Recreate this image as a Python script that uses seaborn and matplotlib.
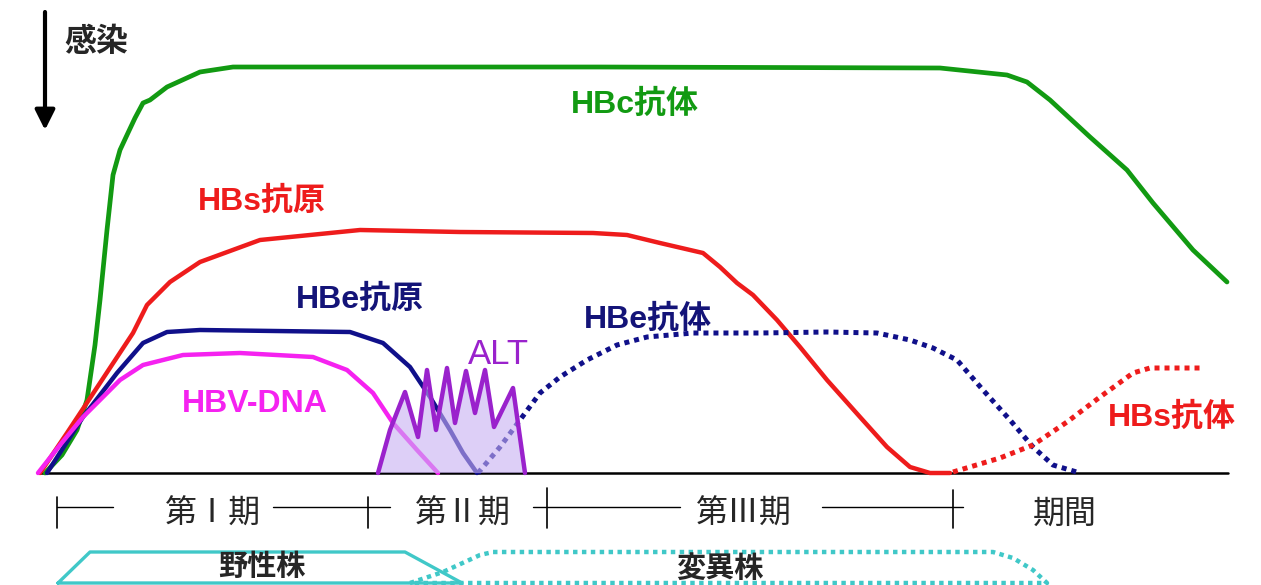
import matplotlib
matplotlib.use("Agg")
import matplotlib.pyplot as plt
import seaborn as sns

# time axis (x) and level above the baseline (y)
hbc_ab_x = [45, 62, 77, 87, 95, 100, 107, 113, 120, 127, 135, 143, 150, 167, 200, 233, 300, 600,
            940, 1007, 1027, 1050, 1090, 1127, 1153, 1193, 1227]
hbc_ab_y = [0, 18, 43, 73, 128, 173, 243, 298, 323, 338, 355, 370, 373, 386, 401, 406, 406, 406,
            405, 398, 391, 373, 336, 303, 270, 223, 191]

hbs_ag_x = [40, 67, 100, 133, 147, 170, 200, 260, 360, 460, 593, 627, 660, 703, 720, 737, 753,
            777, 800, 827, 860, 887, 910, 930, 950]
hbs_ag_y = [0, 40, 90, 140, 168, 191, 211, 233, 243, 241, 240, 238, 230, 220, 206, 190, 178,
            153, 126, 93, 56, 26, 6, 0, 0]

hbe_ag_x = [47, 65, 83, 100, 117, 143, 167, 200, 350, 383, 410, 430, 450, 463, 477]
hbe_ag_y = [0, 28, 56, 78, 100, 130, 141, 143, 141, 130, 106, 76, 43, 20, 0]

dna_x = [38, 60, 83, 120, 143, 183, 240, 313, 347, 373, 393, 417, 438]
dna_y = [0, 28, 56, 93, 108, 118, 120, 116, 103, 80, 50, 23, 0]

alt_x = [378, 390, 405, 418, 427, 436, 447, 455, 466, 475, 485, 494, 513, 525]
alt_y = [0, 43, 81, 36, 103, 43, 105, 50, 102, 60, 103, 46, 85, 0]

hbe_ab_x = [478, 500, 520, 540, 560, 587, 617, 647, 693, 760, 827, 877, 910, 933, 957, 983,
            1010, 1033, 1053, 1080]
hbe_ab_y = [0, 26, 53, 80, 96, 113, 128, 136, 140, 140, 141, 140, 133, 125, 113, 83,
            53, 26, 8, 0]

hbs_ab_x = [953, 1000, 1033, 1067, 1100, 1133, 1150, 1200]
hbs_ab_y = [1, 15, 28, 51, 76, 100, 105, 105]

# phases along the time axis
phase_ticks = [57, 368, 547, 953]
phase_labels = ["第Ⅰ期", "第Ⅱ期", "第Ⅲ期", "期間"]
phase_label_x = [213, 463, 744, 1065]

# virus strain bands
wild_x = [58, 90, 405, 462, 58]
wild_y = [-110, -79, -79, -110, -110]
mutant_x = [410, 443, 480, 493, 993, 1013, 1033, 1047, 410]
mutant_y = [-110, -99, -82, -79, -79, -85, -97, -110, -110]

GREEN = "#129a12"
RED = "#ee1c1c"
NAVY = "#10108a"
MAGENTA = "#f522f0"
PURPLE = "#9a22cc"
LAVENDER = "#c7b0f2"
CYAN = "#40c8c8"
DOT = (0, (1, 1))
LABEL_FONT = ["Liberation Sans", "Noto Sans CJK JP", "DejaVu Sans"]

sns.set_style("white")
plt.rcParams["font.family"] = ["Noto Sans CJK JP", "DejaVu Sans"]

fig = plt.figure(figsize=(12.61, 5.85), dpi=100)
ax = fig.add_axes([0, 0, 1, 1])


def line(x, y, **kw):
    sns.lineplot(x=x, y=y, ax=ax, estimator=None, sort=False, **kw)


# baseline
line([38, 1228], [0, 0], color="black", lw=1.8, zorder=2)

line(hbc_ab_x, hbc_ab_y, color=GREEN, lw=3.4, zorder=3)
line(hbs_ag_x, hbs_ag_y, color=RED, lw=3.2, zorder=3)
line(hbe_ag_x, hbe_ag_y, color=NAVY, lw=3.2, zorder=3)
line(dna_x, dna_y, color=MAGENTA, lw=3.2, zorder=3)
line(hbe_ab_x, hbe_ab_y, color=NAVY, lw=3.6, zorder=3, linestyle=DOT, dash_capstyle="butt")
line(hbs_ab_x, hbs_ab_y, color=RED, lw=3.6, zorder=3, linestyle=DOT, dash_capstyle="butt")

# ALT flare, translucent over the other curves
ax.fill(alt_x, alt_y, color=LAVENDER, alpha=0.6, lw=0, zorder=5)
line(alt_x, alt_y, color=PURPLE, lw=3.2, zorder=6)

# infection arrow
ax.annotate("", xy=(45, 343), xytext=(45, 461),
            arrowprops=dict(arrowstyle="-|>", color="black", lw=3, mutation_scale=30,
                            shrinkA=0, shrinkB=0))
ax.text(96, 431, "感染", ha="center", va="center", fontsize=23, fontweight="bold")

lab = dict(ha="center", va="center", fontsize=23, fontweight="bold", family=LABEL_FONT)
ax.text(635, 368, "HBc抗体", color=GREEN, **lab)
ax.text(262, 271, "HBs抗原", color=RED, **lab)
ax.text(360, 173, "HBe抗原", color="#141478", **lab)
ax.text(255, 69, "HBV-DNA", color=MAGENTA, **lab)
ax.text(648, 153, "HBe抗体", color="#141478", **lab)
ax.text(1172, 55, "HBs抗体", color=RED, **lab)
ax.text(498, 119, "ALT", color=PURPLE, ha="center", va="center", fontsize=25,
        family=LABEL_FONT)

# phase ruler
for x0, x1 in [(57, 113), (273, 390), (533, 680), (822, 963)]:
    line([x0, x1], [-34, -34], color="black", lw=1.0)
for xt, top in zip(phase_ticks, [-24, -24, -15, -17]):
    line([xt, xt], [top, -55], color="black", lw=1.2)
for xl, txt in zip(phase_label_x, phase_labels):
    ax.text(xl, -41, txt, ha="center", va="center", fontsize=23)

# strains
line(wild_x, wild_y, color=CYAN, lw=2.4)
line(mutant_x, mutant_y, color=CYAN, lw=3.2, linestyle=DOT, dash_capstyle="butt")
ax.text(262, -93, "野性株", ha="center", va="center", fontsize=21, fontweight="bold")
ax.text(720, -95, "変異株", ha="center", va="center", fontsize=21, fontweight="bold")

ax.set_xlim(0, 1261)
ax.set_ylim(-112, 473)
ax.axis("off")

fig.savefig("out.png", dpi=100)
